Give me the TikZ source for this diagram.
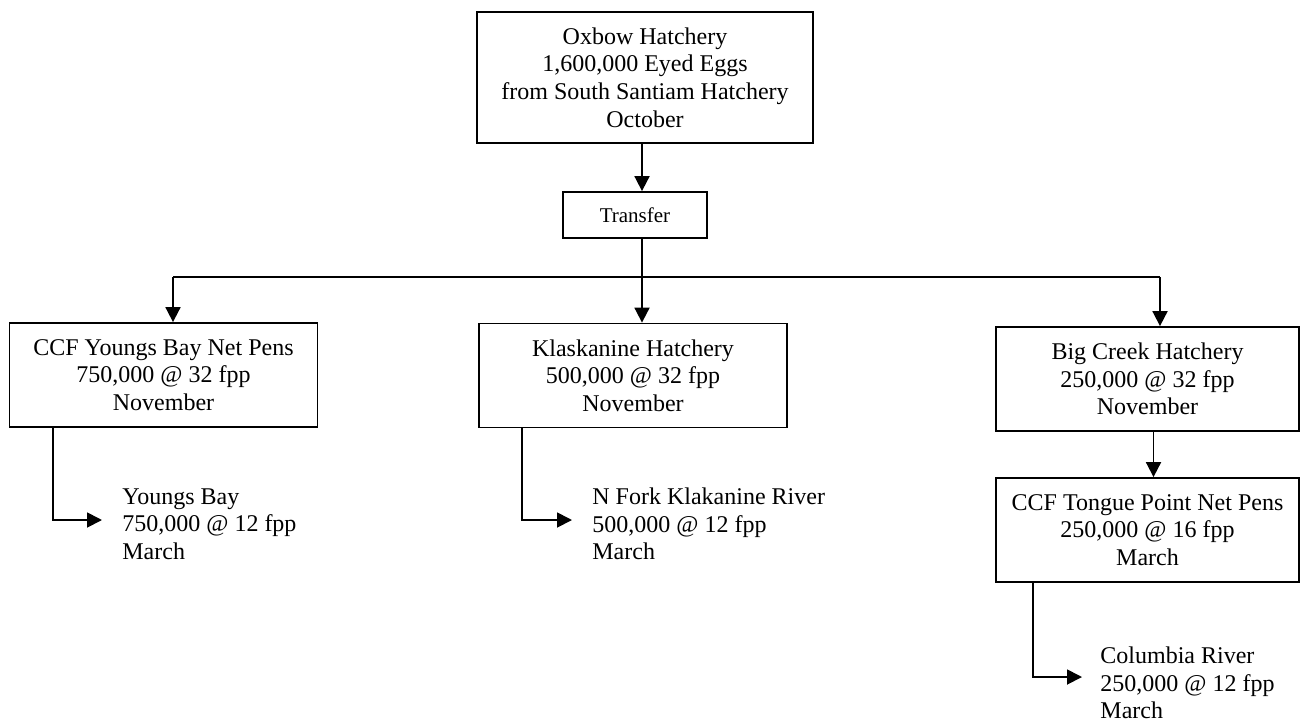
\documentclass[tikz,border=0pt]{standalone}
\usepackage{fontspec}
\setmainfont{Liberation Serif}
\usetikzlibrary{arrows.meta}
\tikzstyle{hatch} = [rectangle, minimum width=154pt, minimum height=52pt, align=center, draw=black, line width=0.9pt, font=\fontsize{12pt}{13.8pt}\selectfont]
\tikzstyle{source} = [hatch, minimum width=168pt, minimum height=65.5pt]
\tikzstyle{step1} = [rectangle, minimum width=72pt, minimum height=23pt, align=center, draw=black, line width=0.9pt, font=\fontsize{10.5pt}{12pt}\selectfont]
\tikzstyle{release} = [rectangle, anchor=west, inner sep=0pt, align=left, font=\fontsize{12pt}{13.8pt}\selectfont]
\tikzstyle{link} = [line width=0.9pt, -{Triangle[length=7.5pt,width=7.5pt]}]
\tikzstyle{plain} = [line width=0.9pt]

\begin{document}
\begin{tikzpicture}[x=0.5pt,y=-0.5pt]
\useasboundingbox (0,0) rectangle (1300,723);

\node at (645,77.5) (ox) [source] {Oxbow Hatchery\\1,600,000 Eyed Eggs\\from South Santiam Hatchery\\October};

\node at (635,215) (tr) [step1] {Transfer};

\coordinate (split) at (642,277);
\coordinate (barL) at (173,277);
\coordinate (barR) at (1160,277);

\draw[link](ox.south -| split) -- (tr.north -| split);
\draw[plain](tr.south -| split) -- (split);
\draw[plain](barL) -- (barR);

\node at (163.5,375) (yb) [hatch] {CCF Youngs Bay Net Pens\\750,000 @ 32 fpp\\November};
\draw[link](barL) -- (barL |- yb.north);

\node at (633,375.5) (kl) [hatch] {Klaskanine Hatchery\\500,000 @ 32 fpp\\November};
\draw[link](split) -- (split |- kl.north);

\node at (1147.5,379) (bc) [hatch, minimum width=151.5pt] {Big Creek Hatchery\\250,000 @ 32 fpp\\November};
\draw[link](barR) -- (barR |- bc.north);

\node at (1147.5,530) (tp) [hatch, minimum width=151.5pt] {CCF Tongue Point Net Pens\\250,000 @ 16 fpp\\March};
\draw[link]([xshift=3pt]bc.south) -- ([xshift=3pt]tp.north);

% releases
\node at (122,524) (ybr) [release] {Youngs Bay\\750,000 @ 12 fpp\\March};
\draw[link]([xshift=22pt]yb.south west) |- ([xshift=-10pt,yshift=2pt]ybr.west);

\node at (592,524) (klr) [release] {N Fork Klakanine River\\500,000 @ 12 fpp\\March};
\draw[link]([xshift=22pt]kl.south west) |- ([xshift=-10pt,yshift=2pt]klr.west);

\node at (1100,683) (tpr) [release] {Columbia River\\250,000 @ 12 fpp\\March};
\draw[link]([xshift=19pt]tp.south west) |- ([xshift=-9pt,yshift=3pt]tpr.west);

\end{tikzpicture}
\end{document}
